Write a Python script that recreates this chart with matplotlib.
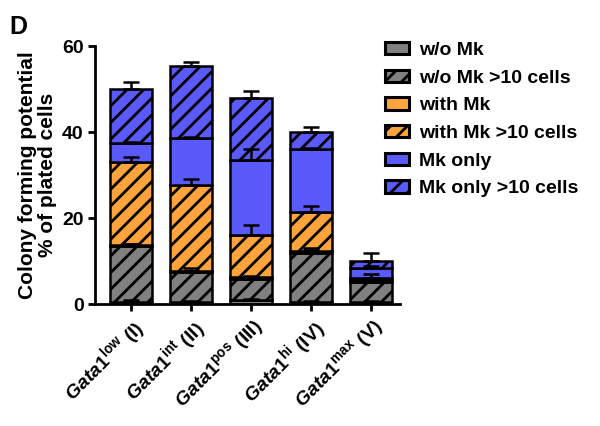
import matplotlib
matplotlib.use("Agg")
import matplotlib.pyplot as plt
import numpy as np
from matplotlib.patches import Patch

plt.rcParams['font.family'] = ['Liberation Sans', 'DejaVu Sans']
plt.rcParams['font.weight'] = 'bold'
plt.rcParams['mathtext.fontset'] = 'custom'
plt.rcParams['mathtext.it'] = 'Liberation Sans:italic:bold'
plt.rcParams['mathtext.bf'] = 'Liberation Sans:bold'
plt.rcParams['mathtext.rm'] = 'Liberation Sans:bold'
plt.rcParams['hatch.linewidth'] = 2.0
plt.rcParams['hatch.color'] = 'black'

categories = [r'$\mathit{Gata1}^{\mathbf{low}}$ (I)',
              r'$\mathit{Gata1}^{\mathbf{int}}$ (II)',
              r'$\mathit{Gata1}^{\mathbf{pos}}$ (III)',
              r'$\mathit{Gata1}^{\mathbf{hi}}$ (IV)',
              r'$\mathit{Gata1}^{\mathbf{max}}$ (V)']

series_names = ['w/o Mk', 'w/o Mk >10 cells', 'with Mk',
                'with Mk >10 cells', 'Mk only', 'Mk only >10 cells']

# segment heights (% of plated cells), bottom to top
wo_mk        = [0.6, 0.5, 1.0, 0.5, 0.5]
wo_mk_10     = [12.9, 6.9, 4.8, 11.5, 4.7]
with_mk      = [0.3, 0.2, 0.5, 0.3, 0.3]
with_mk_10   = [19.2, 20.1, 9.7, 9.2, 0.5]
mk_only      = [4.5, 10.9, 17.5, 14.5, 2.5]
mk_only_10   = [12.5, 16.7, 14.5, 4.0, 1.5]

# upper SEM for each segment
wo_mk_err      = [0.3, 0.2, 0.2, 0.2, 0.2]
wo_mk_10_err   = [0.4, 1.0, 0.4, 1.0, 0.3]
with_mk_err    = [0.2, 0.2, 0.3, 0.2, 0.3]
with_mk_10_err = [1.2, 1.3, 2.4, 1.2, 1.0]
mk_only_err    = [0.3, 0.3, 2.5, 0.3, 0.3]
mk_only_10_err = [1.7, 1.0, 1.5, 1.1, 1.8]

values = [wo_mk, wo_mk_10, with_mk, with_mk_10, mk_only, mk_only_10]
errors = [wo_mk_err, wo_mk_10_err, with_mk_err, with_mk_10_err,
          mk_only_err, mk_only_10_err]
colors = ['#808080', '#808080', '#FFA43C', '#FFA43C', '#5A5AFA', '#5A5AFA']
hatches = [None, '//', None, '//', None, '//']

fig = plt.figure(figsize=(6, 4.26), dpi=100)
ax = fig.add_axes([0.158, 0.286, 0.509, 0.606])

x = np.arange(len(categories))
width = 0.7
bottom = np.zeros(len(categories))
for vals, errs, col, hat in zip(values, errors, colors, hatches):
    vals = np.array(vals)
    ax.bar(x, vals, width, bottom=bottom, color=col, edgecolor='black',
           linewidth=1.8, hatch=hat, zorder=2)
    top = bottom + vals
    ax.errorbar(x, top, yerr=[np.zeros_like(top), np.array(errs)], fmt='none',
                ecolor='black', elinewidth=1.8, capsize=6, capthick=1.8,
                zorder=3)
    bottom = top

ax.set_xlim(-0.6, 4.48)
ax.set_ylim(0, 60)
ax.set_yticks([0, 20, 40, 60])
ax.tick_params(axis='y', labelsize=14, width=2, length=5, pad=3)
ax.tick_params(axis='x', labelsize=14, width=2, length=5, pad=3)
ax.set_xticks(x)
ax.set_xticklabels(categories, rotation=45, ha='right', rotation_mode='anchor',
                   fontweight='bold')
for s in ['top', 'right']:
    ax.spines[s].set_visible(False)
for s in ['left', 'bottom']:
    ax.spines[s].set_linewidth(2)

ax.set_ylabel('Colony forming potential\n% of plated cells', fontsize=15,
              fontweight='bold', linespacing=1.05, labelpad=4)

fig.text(0.015, 0.92, 'D', fontsize=18, fontweight='bold')

handles = [Patch(facecolor=c, edgecolor='black', linewidth=2.2, hatch=h)
           for c, h in zip(colors, hatches)]
leg = fig.legend(handles, series_names, loc='upper left',
                 bbox_to_anchor=(0.612, 0.943), frameon=False, fontsize=14,
                 handlelength=1.25, handleheight=0.6, handletextpad=0.5,
                 labelspacing=0.55)
for t in leg.get_texts():
    t.set_fontweight('bold')

fig.savefig('out.png', dpi=100)
